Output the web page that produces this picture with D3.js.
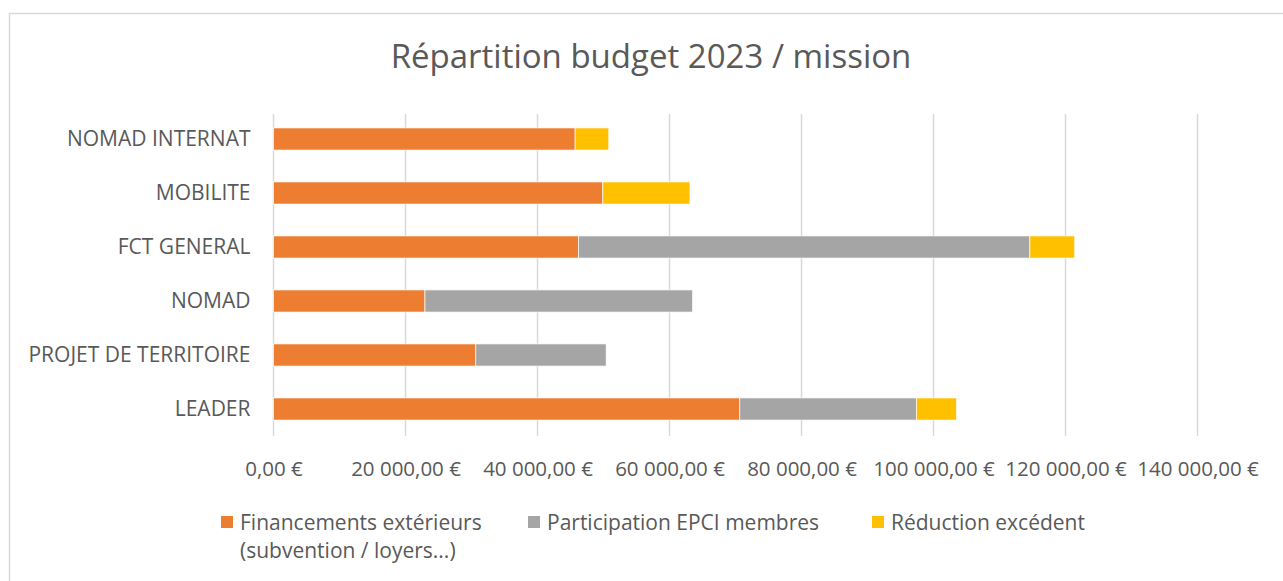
<!DOCTYPE html>
<html><head><meta charset="utf-8">
<script src="https://cdn.jsdelivr.net/npm/d3@7"></script>
<style>body{margin:0;background:#fff}svg{display:block}text{font-family:"Open Sans",sans-serif;fill:#595959}</style>
</head><body><svg id="c" width="1283" height="581"></svg>
<script>
const categories = ["NOMAD INTERNAT","MOBILITE","FCT GENERAL","NOMAD","PROJET DE TERRITOIRE","LEADER"];
const financements = [45700, 49900, 46200, 22950, 30650, 70650];
const participation = [0, 0, 68400, 40550, 19750, 26750];
const reduction = [5100, 13200, 6800, 0, 0, 6100];
const seriesNames = ["Financements extérieurs|(subvention / loyers...)", "Participation EPCI membres", "Réduction excédent"];
const colors = ["#ED7D31", "#A5A5A5", "#FFC000"];
const tickValues = [0,20000,40000,60000,80000,100000,120000,140000];
const title = "Répartition budget 2023 / mission";

const svg = d3.select("#c");
svg.append("rect").attr("x",9.5).attr("y",13.5).attr("width",1400).attr("height",700)
  .attr("fill","#fff").attr("stroke","#d9d9d9").attr("stroke-width",1.5);

const x = d3.scaleLinear().domain([0,140000]).range([273.5,1197.5]);
const y = d3.scaleBand().domain(categories).range([112,436]).paddingInner(0.59).paddingOuter(0.295);

svg.append("text").attr("x",651).attr("y",68).attr("text-anchor","middle")
  .style("font-size","33px").text(title);

// gridlines
svg.append("g").selectAll("line").data(tickValues).join("line")
  .attr("x1",d=>x(d)).attr("x2",d=>x(d)).attr("y1",114).attr("y2",436)
  .attr("stroke","#d9d9d9").attr("stroke-width",1.5);

const rows = categories.map((c,i)=>({cat:c, v:[financements[i],participation[i],reduction[i]]}));
const stack = d3.stack().keys([0,1,2]).value((d,k)=>d.v[k]);
const layers = stack(rows);
svg.append("g").selectAll("g").data(layers).join("g").attr("fill",(d,i)=>colors[i])
  .selectAll("rect").data(d=>d.filter(s=>s[1]>s[0])).join("rect")
  .attr("x",d=>x(d[0])).attr("width",d=>x(d[1])-x(d[0]))
  .attr("y",d=>y(d.data.cat)).attr("height",y.bandwidth())
  .attr("stroke","#fff").attr("stroke-width",0.7);

// y axis labels
const yAxis = d3.axisLeft(y).tickSize(0).tickPadding(23);
const gy = svg.append("g").attr("transform","translate(273.5,0)").call(yAxis);
gy.select(".domain").remove();
gy.selectAll("text").style("font-size","21px").attr("fill","#595959");

// x axis labels
const fmt = v => (v===0 ? "0" : d3.format(",")(v).replace(/,/g,"\u00a0")) + ",00\u00a0€";
const xAxis = d3.axisBottom(x).tickValues(tickValues).tickFormat(fmt).tickSize(0).tickPadding(24);
const gx = svg.append("g").attr("transform","translate(0,443)").call(xAxis);
gx.select(".domain").remove();
gx.selectAll("text").style("font-size","20.5px").attr("fill","#595959").attr("dy",null).attr("y",33);

// legend
const legX = [221, 528, 872];
seriesNames.forEach((n,i)=>{
  const g = svg.append("g");
  g.append("rect").attr("x",legX[i]).attr("y",516).attr("width",12).attr("height",12).attr("fill",colors[i]);
  n.split("|").forEach((line,j)=>{
    g.append("text").attr("x",legX[i]+19).attr("y",530+j*28).style("font-size","21px").text(line);
  });
});
</script></body></html>
